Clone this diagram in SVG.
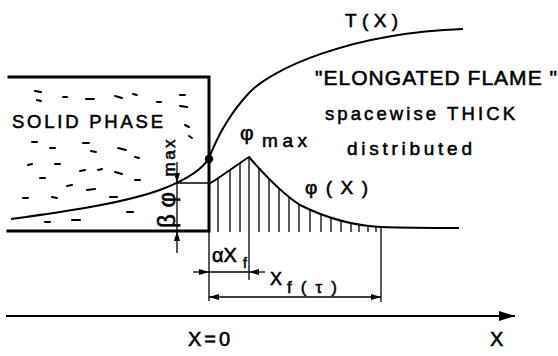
<svg xmlns="http://www.w3.org/2000/svg" width="558" height="356" viewBox="0 0 558 356">
<style>
.t{font-family:"Liberation Sans",Arial,sans-serif;fill:#000;stroke:#000;stroke-width:0.55}
.thick{stroke:#000;stroke-width:3;fill:none;stroke-linecap:square}
.curve{stroke:#000;stroke-width:2;fill:none}
.thin{stroke:#000;stroke-width:1.3;fill:none}
.dash{stroke:#000;stroke-width:2;stroke-linecap:round}
.hatch{stroke:#000;stroke-width:1.3}
</style>
<defs>
<marker id="ar" viewBox="0 0 10 6" refX="10" refY="3" markerWidth="10" markerHeight="6" markerUnits="userSpaceOnUse" orient="auto-start-reverse">
<path d="M0,0 L10,3 L0,6 Z" fill="#000"/>
</marker>
<marker id="big" viewBox="0 0 16 10" refX="16" refY="5" markerWidth="16" markerHeight="10" markerUnits="userSpaceOnUse" orient="auto">
<path d="M0,0 L16,5 L0,10 Z" fill="#000"/>
</marker>
<clipPath id="under">
<path d="M209,184 C222,176 238,164 249,157 C262,172 280,192 300,205 C330,220 360,226 381,227 L381,233 L209,233 Z"/>
</clipPath>
</defs>

<g id="solid-phase">
<path class="thick" d="M9,77 H209 V231 H8"/>
<g id="grain">
<line class="dash" x1="35" y1="91" x2="41" y2="92"/>
<line class="dash" x1="37" y1="100" x2="41" y2="101"/>
<line class="dash" x1="63" y1="97" x2="67" y2="97"/>
<line class="dash" x1="86" y1="99" x2="94" y2="99"/>
<line class="dash" x1="115" y1="96" x2="122" y2="98"/>
<line class="dash" x1="133" y1="94" x2="137" y2="95"/>
<line class="dash" x1="157" y1="102" x2="161" y2="102"/>
<line class="dash" x1="180" y1="95" x2="185" y2="95"/>
<line class="dash" x1="180" y1="106" x2="187" y2="107"/>
<line class="dash" x1="185" y1="125" x2="189" y2="127"/>
<line class="dash" x1="189" y1="136" x2="192" y2="138"/>
<line class="dash" x1="32" y1="142" x2="37" y2="142"/>
<line class="dash" x1="50" y1="148" x2="55" y2="148"/>
<line class="dash" x1="83" y1="143" x2="89" y2="143"/>
<line class="dash" x1="91" y1="151" x2="96" y2="152"/>
<line class="dash" x1="118" y1="148" x2="126" y2="150"/>
<line class="dash" x1="135" y1="157" x2="139" y2="158"/>
<line class="dash" x1="28" y1="165" x2="32" y2="164"/>
<line class="dash" x1="55" y1="164" x2="60" y2="164"/>
<line class="dash" x1="80" y1="171" x2="85" y2="170"/>
<line class="dash" x1="98" y1="170" x2="102" y2="169"/>
<line class="dash" x1="115" y1="172" x2="122" y2="174"/>
<line class="dash" x1="135" y1="180" x2="140" y2="180"/>
<line class="dash" x1="40" y1="178" x2="45" y2="178"/>
<line class="dash" x1="67" y1="186" x2="72" y2="185"/>
<line class="dash" x1="87" y1="190" x2="95" y2="189"/>
<line class="dash" x1="23" y1="198" x2="28" y2="198"/>
<line class="dash" x1="52" y1="197" x2="57" y2="198"/>
<line class="dash" x1="110" y1="197" x2="117" y2="197"/>
<line class="dash" x1="127" y1="212" x2="133" y2="212"/>
<line class="dash" x1="45" y1="222" x2="50" y2="222"/>
<line class="dash" x1="72" y1="220" x2="80" y2="220"/>
</g>
<text class="t" x="12" y="128" font-size="18.5" textLength="151" lengthAdjust="spacing">SOLID PHASE</text>
</g>

<g id="temperature-curve">
<path class="curve" d="M11,219 C70,211 130,202 165,188 C185,180 202,170 209,158 C216,140 228,115 250,92 C272,69 350,33 463,29"/>
<circle cx="209" cy="159" r="4.2" fill="#000"/>
<text class="t" x="345" y="27" font-size="19" textLength="53" lengthAdjust="spacing">T(X)</text>
</g>

<g id="flame-profile">
<path class="curve" d="M209,184 C222,176 238,164 249,157 C262,172 280,192 300,205 C330,220 360,226 381,227 C410,228 440,228 459,228"/>
<g clip-path="url(#under)">
<line class="hatch" x1="218" y1="150" x2="218" y2="232"/>
<line class="hatch" x1="230" y1="150" x2="230" y2="232"/>
<line class="hatch" x1="240" y1="150" x2="240" y2="232"/>
<line class="hatch" x1="259" y1="150" x2="259" y2="232"/>
<line class="hatch" x1="269" y1="150" x2="269" y2="232"/>
<line class="hatch" x1="279" y1="150" x2="279" y2="232"/>
<line class="hatch" x1="289" y1="150" x2="289" y2="232"/>
<line class="hatch" x1="299" y1="150" x2="299" y2="232"/>
<line class="hatch" x1="310" y1="150" x2="310" y2="232"/>
<line class="hatch" x1="321" y1="150" x2="321" y2="232"/>
<line class="hatch" x1="331" y1="150" x2="331" y2="232"/>
<line class="hatch" x1="341" y1="150" x2="341" y2="232"/>
<line class="hatch" x1="351" y1="150" x2="351" y2="232"/>
<line class="hatch" x1="359" y1="150" x2="359" y2="232"/>
<line class="hatch" x1="368" y1="150" x2="368" y2="232"/>
<line class="hatch" x1="376" y1="150" x2="376" y2="232"/>
</g>
<text class="t" x="240" y="140" font-size="21">φ</text>
<text class="t" x="262" y="147" font-size="19" textLength="45" lengthAdjust="spacing">max</text>
<text class="t" x="305" y="194" font-size="19" textLength="63" lengthAdjust="spacing">φ(X)</text>
</g>

<g id="flame-label">
<text class="t" x="315" y="85" font-size="21" textLength="242" lengthAdjust="spacing">"ELONGATED FLAME "</text>
<text class="t" x="325" y="120" font-size="18.5" textLength="190" lengthAdjust="spacing">spacewise THICK</text>
<text class="t" x="347" y="155" font-size="19" textLength="125" lengthAdjust="spacing">distributed</text>
</g>

<g id="connectors">
<line class="thin" x1="209" y1="231" x2="209" y2="301"/>
<line class="thin" x1="249" y1="157" x2="249" y2="280"/>
<line class="thin" x1="381" y1="227" x2="381" y2="302"/>
<path class="thin" d="M177,162 V183" marker-end="url(#ar)"/>
<path class="thin" d="M177,183 H209 M177,183 V231"/>
<path class="thin" d="M177,253 V231" marker-end="url(#ar)"/>
<path class="thin" d="M193,272 H209" marker-end="url(#ar)"/>
<path class="thin" d="M209,272 H249"/>
<path class="thin" d="M265,272 H249" marker-end="url(#ar)"/>
<path class="thin" d="M209,297 H381" marker-start="url(#ar)" marker-end="url(#ar)"/>
<path class="curve" d="M6,316 H515" marker-end="url(#big)"/>
</g>

<g id="dimension-labels">
<text class="t" transform="translate(175,228) rotate(-90)" font-size="24"><tspan textLength="36" lengthAdjust="spacing">βφ</tspan><tspan dx="9" font-size="17" textLength="37" lengthAdjust="spacing">max</tspan></text>
<text class="t" x="212" y="262" font-size="20">αX</text>
<text class="t" x="243" y="268" font-size="14">f</text>
<text class="t" x="270" y="285" font-size="18">X</text>
<text class="t" x="287" y="293" font-size="17" textLength="50" lengthAdjust="spacing">f(τ)</text>
<text class="t" x="188" y="346" font-size="20" textLength="42" lengthAdjust="spacing">X=0</text>
<text class="t" x="490" y="346" font-size="20">X</text>
</g>
</svg>
